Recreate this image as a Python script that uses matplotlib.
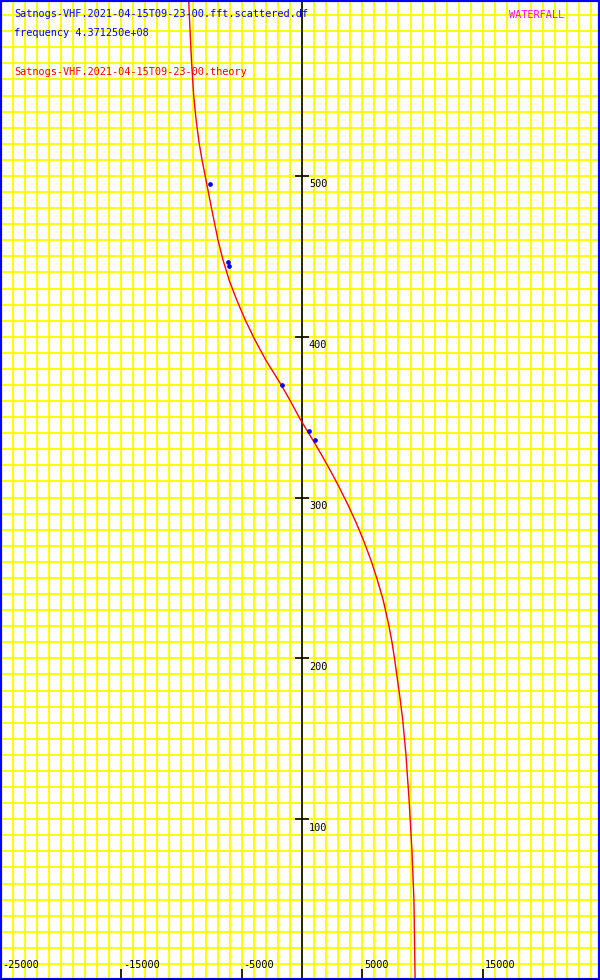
import matplotlib.pyplot as plt
from matplotlib.patches import Rectangle
from matplotlib.ticker import MultipleLocator

# Theory doppler curve (time vs frequency offset)
theory_time = [0, 50, 80, 112, 140, 162, 178, 193, 201, 211, 222, 236, 249, 261,
               274, 285, 295, 305, 315, 325, 333, 340, 349, 360, 370, 386, 398,
               410, 423, 435, 448, 460, 479, 489, 499, 510, 522, 535, 550, 570,
               590, 610]
theory_freq = [9380, 9280, 9120, 8880, 8620, 8350, 8080, 7800, 7650, 7440, 7160,
               6740, 6240, 5720, 5070, 4450, 3840, 3180, 2480, 1740, 1120, 560,
               -170, -960, -1720, -3040, -3900, -4680, -5420, -6030, -6560,
               -6960, -7480, -7740, -8000, -8290, -8560, -8780, -8980, -9150,
               -9280, -9400]

# Scattered fft measurements
scatter_time = [494.9, 446.5, 444.0, 369.8, 341.5, 335.7]
scatter_freq = [-7630, -6140, -6090, -1660, 580, 1080]

xticks = [-25000, -15000, -5000, 5000, 15000]
yticks = [100, 200, 300, 400, 500]

MONO = "DejaVu Sans Mono"
FS = 7.4


def main():
    fig = plt.figure(figsize=(6, 9.8), dpi=100)
    ax = fig.add_axes([0, 0, 1, 1])
    ax.set_facecolor("white")

    ax.set_xlim(-25040, 24710)
    ax.set_ylim(0, 609.4)

    # grid every 1000 Hz and 10 units
    ax.set_xticks(xticks)
    ax.set_yticks(yticks)
    ax.xaxis.set_minor_locator(MultipleLocator(1000))
    ax.yaxis.set_minor_locator(MultipleLocator(10))
    ax.grid(which="both", color="#ffff00", linewidth=1.4)
    ax.set_axisbelow(True)

    ax.tick_params(which="minor", length=0)
    ax.tick_params(axis="x", which="major", direction="in", length=8,
                   width=1.2, color="black", labelbottom=False)
    ax.tick_params(axis="y", which="major", direction="inout", length=9.5,
                   width=1.2, color="black", labelleft=False)

    # axes: vertical at 0, horizontal at bottom
    ax.spines["left"].set_position(("data", 0))
    ax.spines["left"].set_color("black")
    ax.spines["left"].set_linewidth(1.2)
    ax.spines["bottom"].set_color("black")
    ax.spines["bottom"].set_linewidth(2.2)
    ax.spines["bottom"].set_zorder(6)
    ax.spines["top"].set_visible(False)
    ax.spines["right"].set_visible(False)

    # blue frame round the plot
    ax.add_patch(Rectangle((0, 0), 1, 1, transform=ax.transAxes, fill=False,
                           edgecolor="blue", linewidth=3, clip_on=False,
                           zorder=5))

    for v in xticks:
        ax.annotate(str(v), xy=(v, 0), xytext=(1.2, 8.3),
                    textcoords="offset points", ha="left", va="baseline",
                    family=MONO, fontsize=FS, color="black")
    for v in yticks:
        ax.annotate(str(v), xy=(0, v), xytext=(5, -2.5),
                    textcoords="offset points", ha="left", va="top",
                    family=MONO, fontsize=FS, color="black")

    ax.plot(theory_freq, theory_time, color="red", linewidth=1.0, zorder=3)
    ax.plot(scatter_freq, scatter_time, "o", color="blue", markersize=3.4,
            markeredgewidth=0, zorder=4)

    def label(px, py, s, color):
        ax.text(px / 600, 1 - py / 980, s, transform=ax.transAxes,
                ha="left", va="baseline", family=MONO, fontsize=FS,
                color=color)

    label(14, 17, "Satnogs-VHF.2021-04-15T09-23-00.fft.scattered.df", "blue")
    label(14, 36, "frequency 4.371250e+08", "blue")
    label(14, 75, "Satnogs-VHF.2021-04-15T09-23-00.theory", "red")
    label(509, 18, "WATERFALL", "magenta")

    fig.savefig("out.png", dpi=100)


if __name__ == "__main__":
    main()
